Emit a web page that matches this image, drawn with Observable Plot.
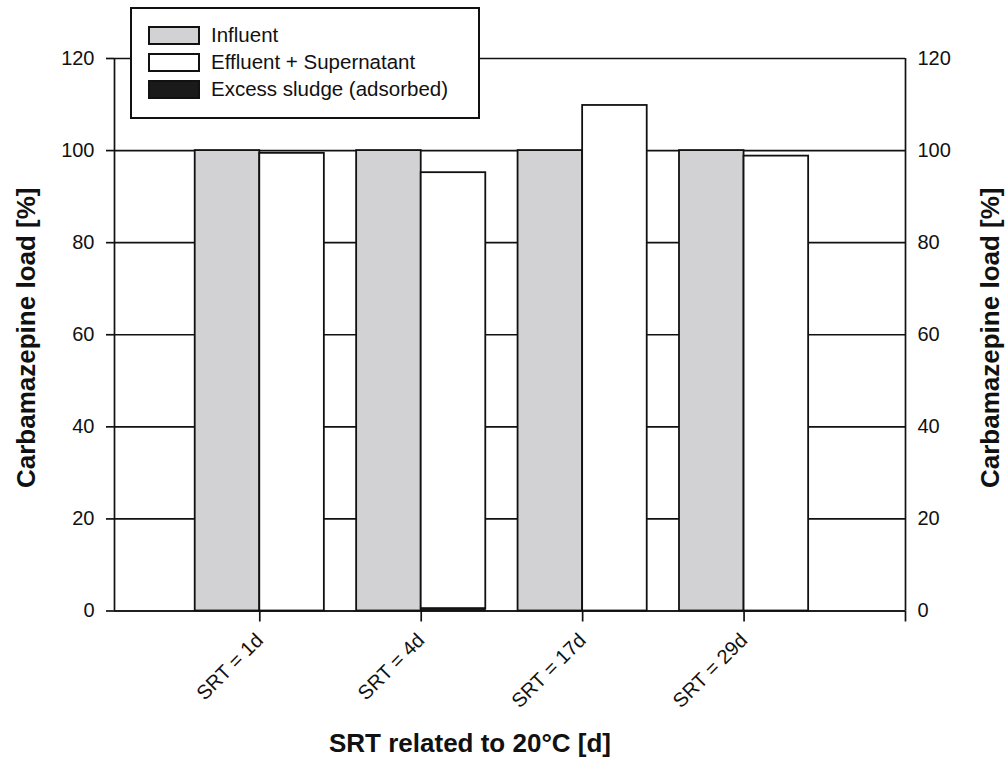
<!DOCTYPE html>
<html>
<head>
<meta charset="utf-8">
<script src="https://cdn.jsdelivr.net/npm/d3@7"></script>
<script src="https://cdn.jsdelivr.net/npm/@observablehq/plot@0.6"></script>
<style>
  body { margin: 0; background: #fff; }
  #chart { position: relative; width: 1005px; height: 757px; font-family: "Liberation Sans", Arial, sans-serif; }
  .legend { position: absolute; left: 130px; top: 7px; width: 346px; height: 108px; border: 2px solid #111; background: #fff; box-sizing: content-box; }
  .legend .row { position: absolute; left: 16px; display: flex; align-items: center; font-size: 20.5px; color: #111; }
  .legend .sw { width: 48px; height: 15px; border: 2px solid #111; margin-right: 11px; }
</style>
</head>
<body>
<div id="chart"></div>
<script>
// Carbamazepine mass balance per sludge retention time
const categories = ["SRT = 1d", "SRT = 4d", "SRT = 17d", "SRT = 29d"];
const influent = [100, 100, 100, 100];
const effluent = [99.4, 94.7, 109.8, 98.8];
const sludge = [0, 0.5, 0, 0];
const yTicks = [0, 20, 40, 60, 80, 100, 120];
const seriesNames = ["Influent", "Effluent + Supernatant", "Excess sludge (adsorbed)"];
const seriesColors = ["#d2d2d4", "#ffffff", "#1a1a1a"];

const rows = categories.map((label, i) => ({
  pos: i + 1,
  label,
  influent: influent[i],
  effluent: effluent[i],
  sludge: sludge[i]
}));

const ink = "#111";
const half = 0.4;

const plot = Plot.plot({
  width: 1005,
  height: 757,
  marginLeft: 114,
  marginRight: 100,
  marginTop: 58,
  marginBottom: 146.5,
  style: { fontFamily: "'Liberation Sans', Arial, sans-serif", fontSize: "20px", color: ink, background: "#fff" },
  x: { type: "linear", domain: [0.1, 5] },
  y: { domain: [0, 120] },
  marks: [
    // horizontal grid at each tick across the frame
    Plot.ruleY(yTicks, { stroke: ink, strokeWidth: 1.7 }),
    // frame sides
    Plot.ruleX([0.1, 5], { stroke: ink, strokeWidth: 1.7 }),
    // influent bars
    Plot.rect(rows, {
      x1: d => d.pos - half, x2: d => d.pos,
      y1: () => 0, y2: "influent",
      fill: seriesColors[0], stroke: ink, strokeWidth: 1.8
    }),
    // effluent + supernatant, stacked above the adsorbed fraction
    Plot.rect(rows, {
      x1: d => d.pos, x2: d => d.pos + half,
      y1: d => d.sludge, y2: d => d.sludge + d.effluent,
      fill: seriesColors[1], stroke: ink, strokeWidth: 1.8
    }),
    Plot.rect(rows.filter(d => d.sludge > 0), {
      x1: d => d.pos, x2: d => d.pos + half,
      y1: () => 0, y2: "sludge",
      fill: seriesColors[2], stroke: ink, strokeWidth: 1
    }),
    Plot.axisY({ anchor: "left", ticks: yTicks, tickSize: 8, tickPadding: 12, fontSize: 20, label: null, strokeWidth: 1.7 }),
    Plot.axisY({ anchor: "right", ticks: yTicks, tickSize: 0, tickPadding: 12, fontSize: 20, label: null }),
    Plot.axisX({
      ticks: [1, 2, 3, 4, 5],
      tickSize: 11,
      tickPadding: 15,
      tickRotate: -45,
      fontSize: 20,
      strokeWidth: 1.7,
      tickFormat: v => categories[v - 1] ?? "",
      label: null
    }),
    Plot.ruleY([0], { stroke: ink, strokeWidth: 1.7 }),
    // axis titles
    Plot.text(["Carbamazepine load [%]"], {
      frameAnchor: "left", textAnchor: "middle", dx: -88, dy: 3, rotate: -90,
      fontSize: 26, fontWeight: "bold", fill: ink
    }),
    Plot.text(["Carbamazepine load [%]"], {
      frameAnchor: "right", textAnchor: "middle", dx: 85, dy: 3, rotate: -90,
      fontSize: 26, fontWeight: "bold", fill: ink
    }),
    Plot.text(["SRT related to 20°C [d]"], {
      frameAnchor: "bottom", dx: -40, dy: 141,
      fontSize: 26, fontWeight: "bold", fill: ink
    })
  ]
});

const chart = document.getElementById("chart");
chart.appendChild(plot);

// legend box drawn over the top of the frame
const legend = document.createElement("div");
legend.className = "legend";
const rowTops = [14, 41, 68];
seriesNames.forEach((name, i) => {
  const row = document.createElement("div");
  row.className = "row";
  row.style.top = rowTops[i] + "px";
  const sw = document.createElement("span");
  sw.className = "sw";
  sw.style.background = seriesColors[i];
  const label = document.createElement("span");
  label.textContent = name;
  row.appendChild(sw);
  row.appendChild(label);
  legend.appendChild(row);
});
chart.appendChild(legend);
</script>
</body>
</html>
